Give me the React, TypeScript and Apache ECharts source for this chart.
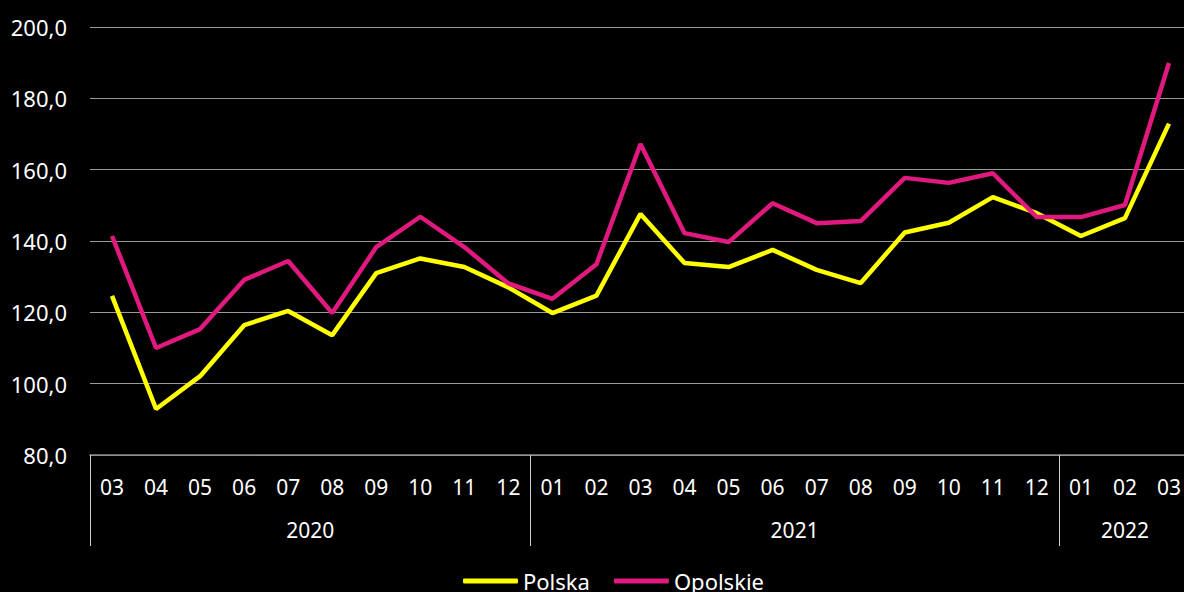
import React, { useEffect, useRef } from "react";
import * as echarts from "echarts";

const months = [
  "03", "04", "05", "06", "07", "08", "09", "10", "11", "12",
  "01", "02", "03", "04", "05", "06", "07", "08", "09", "10", "11", "12",
  "01", "02", "03",
];
const years = ["2020", "2021", "2022"];
const yearCounts = [10, 12, 3];

const polska = [
  124.6, 92.9, 102.1, 116.4, 120.4, 113.6, 131.0, 135.1, 132.7, 127.0,
  119.8, 124.7, 147.6, 133.8, 132.7, 137.5, 131.9, 128.2, 142.4, 145.1, 152.3, 147.8,
  141.4, 146.4, 172.9,
];
const opolskie = [
  141.4, 110.0, 115.3, 129.1, 134.4, 119.8, 138.3, 146.8, 138.3, 128.1,
  123.8, 133.5, 167.2, 142.2, 139.7, 150.6, 145.0, 145.6, 157.7, 156.3, 159.0, 146.7,
  146.7, 150.1, 189.9,
];

const yTicks = { min: 80, max: 200, interval: 20 };

export default function App() {
  const ref = useRef<HTMLDivElement>(null);
  useEffect(() => {
    if (!ref.current) return;
    const chart = echarts.init(ref.current, null, { renderer: "svg" });
    const font = "'Noto Sans', sans-serif";

    const starts: number[] = [];
    let acc = 0;
    yearCounts.forEach((c) => {
      starts.push(acc);
      acc += c;
    });
    const yearCenters = yearCounts.map((c, i) => starts[i] + c / 2);

    chart.setOption({
      animation: false,
      backgroundColor: "#000000",
      textStyle: { fontFamily: font },
      grid: { left: 90, right: 0, top: 27, bottom: 137, containLabel: false },
      legend: {
        left: 458,
        top: 565,
        itemWidth: 55,
        itemHeight: 5,
        itemGap: 24,
        icon: "roundRect",
        textStyle: { color: "#ffffff", fontSize: 22, fontFamily: font },
        data: ["Polska", "Opolskie"],
      },
      xAxis: [
        {
          type: "category",
          data: months,
          boundaryGap: true,
          axisLine: { show: true, lineStyle: { color: "#8c8c8c", width: 1.5 } },
          axisTick: {
            show: true,
            length: 91,
            interval: (index: number) => starts.includes(index),
            lineStyle: { color: "#d0d0d0", width: 1 },
          },
          axisLabel: {
            interval: 0,
            color: "#ffffff",
            fontSize: 21,
            margin: 21,
            fontFamily: font,
          },
          splitLine: { show: false },
        },
        {
          type: "value",
          position: "bottom",
          min: 0,
          max: acc,
          interval: 0.5,
          axisLine: { show: false },
          axisTick: { show: false },
          splitLine: { show: false },
          axisLabel: {
            color: "#ffffff",
            fontSize: 21,
            margin: 64,
            fontFamily: font,
            formatter: (v: number) => {
              const i = yearCenters.findIndex((c) => Math.abs(c - v) < 1e-6);
              return i >= 0 ? years[i] : "";
            },
          },
        },
      ],
      yAxis: {
        type: "value",
        min: yTicks.min,
        max: yTicks.max,
        interval: yTicks.interval,
        axisLine: { show: false },
        axisTick: { show: false },
        axisLabel: {
          color: "#ffffff",
          fontSize: 22,
          margin: 23,
          fontFamily: font,
          formatter: (v: number) => v.toFixed(1).replace(".", ","),
        },
        splitLine: { lineStyle: { color: "#9a9a9a", width: 1.2 } },
      },
      series: [
        {
          name: "Polska",
          type: "line",
          data: polska,
          xAxisIndex: 0,
          symbol: "none",
          lineStyle: { color: "#FFFF00", width: 4.5 },
          itemStyle: { color: "#FFFF00" },
        },
        {
          name: "Opolskie",
          type: "line",
          data: opolskie,
          xAxisIndex: 0,
          symbol: "none",
          lineStyle: { color: "#E0197F", width: 4.5 },
          itemStyle: { color: "#E0197F" },
        },
      ],
    });
    return () => chart.dispose();
  }, []);

  return (
    <div style={{ position: "fixed", left: 0, top: 0, width: 1184, height: 592, overflow: "hidden", background: "#000" }}>
      <div ref={ref} style={{ width: 1194, height: 592 }} />
    </div>
  );
}
